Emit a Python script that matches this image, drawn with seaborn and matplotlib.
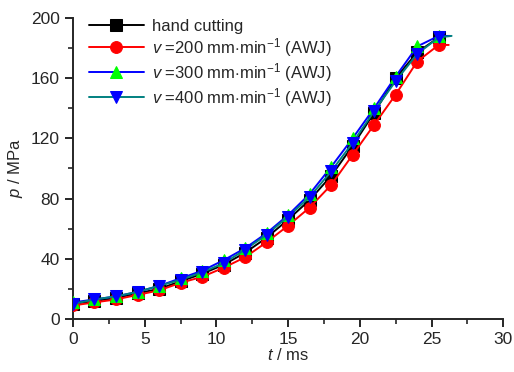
import numpy as np
import pandas as pd
import seaborn as sns
import matplotlib.pyplot as plt
from matplotlib.ticker import MultipleLocator

t_ms = [0, 1.5, 3, 4.5, 6, 7.5, 9, 10.5, 12, 13.5, 15, 16.5, 18, 19.5, 21, 22.5, 24, 25.5]
p_hand = [10, 12, 14, 17, 20, 25, 30, 36, 44, 54, 66, 79, 95, 115, 137, 160, 177, 187]
p_v200 = [9, 11, 13, 16, 19, 24, 28, 34, 41, 51, 62, 74, 89, 109, 129, 149, 171, 182]
p_v300 = [11, 13, 15, 18, 22, 27, 32, 39, 47, 57, 69, 83, 101, 120, 140, 161, 181, 188]
p_v400 = [10, 13, 15, 18, 22, 26, 31, 37, 46, 56, 68, 81, 98, 117, 138, 158, 176, 187]

# end of each curve (last recorded point, no marker)
t_end = [26.0, 26.2, 26.3, 26.4]
p_end = [188, 182, 188, 188]

labels = ['hand cutting',
          r'$\mathit{v}$ =200 mm$\cdot$min$^{-1}$ (AWJ)',
          r'$\mathit{v}$ =300 mm$\cdot$min$^{-1}$ (AWJ)',
          r'$\mathit{v}$ =400 mm$\cdot$min$^{-1}$ (AWJ)']
line_colors = ['black', '#ff0000', '#0000ff', '#008080']
marker_colors = ['black', '#ff0000', '#00ff00', '#0000ff']
markers = ['s', 'o', '^', 'v']

sns.set_style('ticks')
plt.rcParams['font.family'] = ['Liberation Sans', 'DejaVu Sans']
plt.rcParams['mathtext.fontset'] = 'custom'
plt.rcParams['mathtext.rm'] = 'Liberation Sans'
plt.rcParams['mathtext.it'] = 'Liberation Sans:italic'

fig = plt.figure(figsize=(5.14, 3.72), dpi=100)
ax = fig.add_axes([0.142, 0.1425, 0.837, 0.8095])

series = [p_hand, p_v200, p_v300, p_v400]
for i, p in enumerate(series):
    df = pd.DataFrame({'t': t_ms + [t_end[i]], 'p': p + [p_end[i]]})
    sns.lineplot(data=df, x='t', y='p', ax=ax, color=line_colors[i],
                 marker=markers[i], markersize=8.5, markerfacecolor=marker_colors[i],
                 markeredgecolor=marker_colors[i], markevery=list(range(len(t_ms))),
                 linewidth=1.4, label=labels[i], zorder=2 + i)

ax.set_xlim(0, 30)
ax.set_ylim(0, 200)
ax.xaxis.set_major_locator(MultipleLocator(5))
ax.xaxis.set_minor_locator(MultipleLocator(2.5))
ax.yaxis.set_major_locator(MultipleLocator(40))
ax.yaxis.set_minor_locator(MultipleLocator(20))
ax.tick_params(which='major', length=6, width=1.4, labelsize=12.5, direction='out')
ax.tick_params(which='minor', length=3.5, width=1.2, direction='out')
for s in ['left', 'bottom']:
    ax.spines[s].set_linewidth(1.4)
sns.despine(ax=ax)

ax.set_xlabel(r'$\mathit{t}$ / ms', fontsize=12, labelpad=0)
ax.set_ylabel(r'$\mathit{p}$ / MPa', fontsize=12, labelpad=4)

ax.legend(loc='upper left', bbox_to_anchor=(0.01, 1.035), frameon=False, fontsize=12,
          handlelength=3.3, labelspacing=0.12, handletextpad=0.5, borderaxespad=0.3)

fig.savefig('out.png', dpi=100)
